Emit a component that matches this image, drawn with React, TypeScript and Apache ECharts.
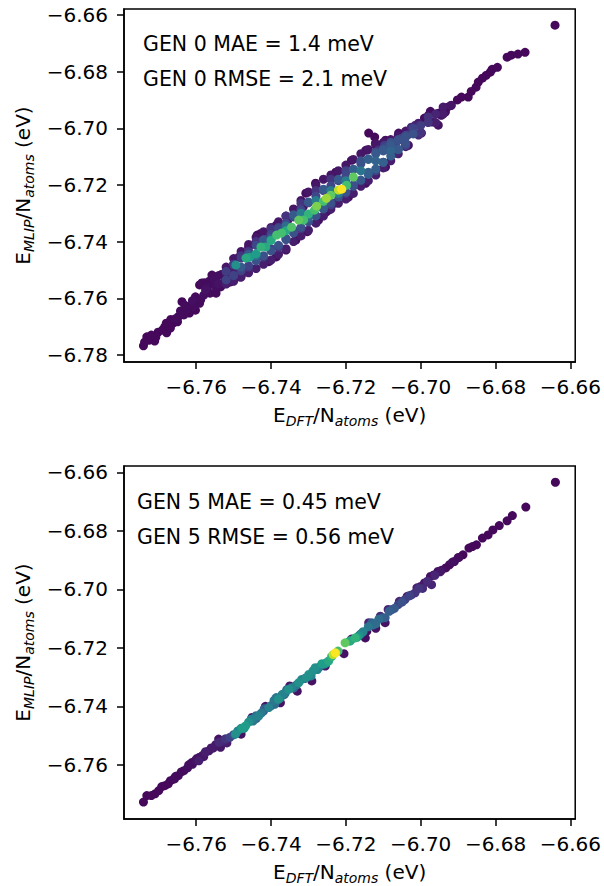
import React, { useEffect, useRef } from 'react';
import * as echarts from 'echarts';

// Tick values
const xTicks = [-6.76, -6.74, -6.72, -6.7, -6.68, -6.66];
const yTicksGen0 = [-6.78, -6.76, -6.74, -6.72, -6.7, -6.68, -6.66];
const yTicksGen5 = [-6.76, -6.74, -6.72, -6.7, -6.68, -6.66];

const gen0Text = ['GEN 0 MAE = 1.4 meV', 'GEN 0 RMSE = 2.1 meV'];
const gen5Text = ['GEN 5 MAE = 0.45 meV', 'GEN 5 RMSE = 0.56 meV'];

// [E_DFT, E_MLIP, density]
const gen0UpperTail = [
  [-6.6641, -6.6636, 0.02], [-6.6721, -6.6732, 0.02], [-6.6758, -6.6742, 0.02], [-6.6769, -6.6749, 0.02],
  [-6.6809, -6.6792, 0.02], [-6.6814, -6.6802, 0.02], [-6.6825, -6.6813, 0.02], [-6.6835, -6.6823, 0.02],
  [-6.6846, -6.6837, 0.02], [-6.6852, -6.6855, 0.02], [-6.6873, -6.689, 0.02], [-6.6891, -6.689, 0.02],
  [-6.6918, -6.6919, 0.03], [-6.6929, -6.6926, 0.03], [-6.6934, -6.6943, 0.03], [-6.6945, -6.6954, 0.04],
  [-6.6953, -6.6947, 0.04], [-6.6974, -6.694, 0.03], [-6.6969, -6.6978, 0.05], [-6.6979, -6.6954, 0.04],
  [-6.699, -6.6964, 0.04], [-6.6865, -6.687, 0.02], [-6.6902, -6.69, 0.02], [-6.694, -6.6935, 0.03],
  [-6.6795, -6.6785, 0.02], [-6.674, -6.6738, 0.02],
];

const gen0LowerTail = [
  [-6.7741, -6.7768, 0.02], [-6.7732, -6.7736, 0.02], [-6.7711, -6.7751, 0.02], [-6.7684, -6.7701, 0.02],
  [-6.7679, -6.7722, 0.02], [-6.7663, -6.7689, 0.02], [-6.7648, -6.7665, 0.03], [-6.7633, -6.7659, 0.03],
  [-6.7638, -6.7612, 0.02], [-6.7617, -6.7628, 0.03], [-6.7602, -6.7642, 0.02], [-6.7591, -6.7618, 0.03],
  [-6.7602, -6.7595, 0.03], [-6.7591, -6.7553, 0.02], [-6.7571, -6.7562, 0.04], [-6.755, -6.7557, 0.04],
  [-6.7555, -6.7522, 0.03], [-6.7531, -6.7515, 0.04], [-6.7509, -6.7526, 0.05], [-6.7499, -6.7507, 0.08],
  [-6.7725, -6.7748, 0.02], [-6.7702, -6.772, 0.02], [-6.769, -6.7712, 0.02], [-6.7669, -6.7705, 0.02],
  [-6.7655, -6.7672, 0.03], [-6.7642, -6.7645, 0.03], [-6.7625, -6.764, 0.03], [-6.761, -6.7608, 0.04],
  [-6.7629, -6.7631, 0.03], [-6.758, -6.7589, 0.04], [-6.7575, -6.757, 0.05], [-6.7563, -6.7582, 0.03],
  [-6.754, -6.7548, 0.05], [-6.7535, -6.756, 0.03], [-6.7522, -6.7536, 0.05], [-6.7515, -6.7505, 0.06],
  [-6.7508, -6.7542, 0.03], [-6.7495, -6.7528, 0.04], [-6.7482, -6.7525, 0.03], [-6.7475, -6.751, 0.05],
  [-6.7738, -6.7755, 0.02], [-6.772, -6.773, 0.02], [-6.7708, -6.7738, 0.02], [-6.768, -6.7688, 0.02],
  [-6.7668, -6.7675, 0.02], [-6.765, -6.7683, 0.02], [-6.763, -6.7625, 0.03], [-6.7618, -6.7652, 0.02],
  [-6.7608, -6.763, 0.03], [-6.7588, -6.7605, 0.03], [-6.7578, -6.7545, 0.03], [-6.7565, -6.754, 0.03],
  [-6.7552, -6.7535, 0.04], [-6.754, -6.752, 0.04], [-6.7528, -6.755, 0.03], [-6.7515, -6.7545, 0.03],
];

const gen0Edges = [
  [-6.7139, -6.7017, 0.02], [-6.7123, -6.7031, 0.02], [-6.7121, -6.7053, 0.05], [-6.7059, -6.7017, 0.04],
  [-6.7041, -6.7017, 0.05], [-6.7094, -6.7042, 0.04], [-6.7147, -6.7078, 0.04], [-6.7185, -6.7113, 0.04],
  [-6.7227, -6.7155, 0.03], [-6.7281, -6.7194, 0.03], [-6.7307, -6.7229, 0.04],
  [-6.6953, -6.6989, 0.05], [-6.6998, -6.7017, 0.06], [-6.7033, -6.706, 0.05], [-6.7094, -6.7137, 0.04],
  [-6.7147, -6.7194, 0.04], [-6.7193, -6.7243, 0.04], [-6.7246, -6.7289, 0.05], [-6.7231, -6.7265, 0.06],
  [-6.7252, -6.7295, 0.04], [-6.7273, -6.7324, 0.04], [-6.7303, -6.7365, 0.03], [-6.7334, -6.7395, 0.03],
  [-6.736, -6.743, 0.03], [-6.7386, -6.7454, 0.03], [-6.7406, -6.7471, 0.03],
  [-6.7314, -6.7277, 0.05], [-6.7334, -6.7289, 0.05], [-6.7355, -6.7324, 0.06], [-6.7365, -6.7348, 0.08],
  [-6.7386, -6.7342, 0.05], [-6.738, -6.7335, 0.05], [-6.7406, -6.7389, 0.1], [-6.7427, -6.7371, 0.03],
  [-6.7437, -6.7377, 0.03], [-6.746, -6.742, 0.05], [-6.7486, -6.7455, 0.06], [-6.7521, -6.7511, 0.06],
  [-6.7558, -6.7518, 0.03], [-6.7585, -6.7546, 0.03], [-6.7547, -6.7582, 0.03],
  [-6.7006, -6.6982, 0.08], [-6.7014, -6.6989, 0.1], [-6.7025, -6.6996, 0.12], [-6.7006, -6.7024, 0.12],
  [-6.7035, -6.7024, 0.18], [-6.7051, -6.7035, 0.2], [-6.7041, -6.7053, 0.15], [-6.7067, -6.7053, 0.22],
  [-6.7078, -6.7049, 0.15], [-6.7097, -6.706, 0.18], [-6.7067, -6.7088, 0.1], [-6.7094, -6.7067, 0.22],
  [-6.7113, -6.7077, 0.15],
];

const gen0Fill = [
  [-6.752, -6.749, 0.06], [-6.752, -6.7505, 0.18], [-6.752, -6.7535, 0.2], [-6.752, -6.755, 0.08],
  [-6.75, -6.746, 0.06], [-6.75, -6.748, 0.18], [-6.75, -6.752, 0.2], [-6.75, -6.754, 0.08],
  [-6.748, -6.7435, 0.06], [-6.748, -6.7458, 0.18], [-6.748, -6.7503, 0.2], [-6.748, -6.7525, 0.08],
  [-6.746, -6.741, 0.06], [-6.746, -6.7435, 0.18], [-6.746, -6.7485, 0.2], [-6.746, -6.751, 0.08],
  [-6.744, -6.7385, 0.06], [-6.744, -6.7413, 0.22], [-6.744, -6.7468, 0.25], [-6.744, -6.7495, 0.08],
  [-6.742, -6.7365, 0.06], [-6.742, -6.7393, 0.22], [-6.742, -6.745, 0.25], [-6.742, -6.748, 0.08],
  [-6.74, -6.735, 0.06], [-6.74, -6.7375, 0.22], [-6.74, -6.7433, 0.25], [-6.74, -6.7465, 0.08],
  [-6.738, -6.733, 0.06], [-6.738, -6.7355, 0.22], [-6.738, -6.7413, 0.25], [-6.738, -6.7445, 0.08],
  [-6.736, -6.731, 0.06], [-6.736, -6.7335, 0.22], [-6.736, -6.7393, 0.25], [-6.736, -6.7425, 0.08],
  [-6.734, -6.7285, 0.06], [-6.734, -6.7313, 0.22], [-6.734, -6.737, 0.25], [-6.734, -6.74, 0.08],
  [-6.732, -6.7255, 0.06], [-6.732, -6.7288, 0.22], [-6.732, -6.735, 0.25], [-6.732, -6.738, 0.08],
  [-6.73, -6.7225, 0.06], [-6.73, -6.7263, 0.22], [-6.73, -6.733, 0.25], [-6.73, -6.736, 0.08],
  [-6.728, -6.72, 0.06], [-6.728, -6.724, 0.22], [-6.728, -6.7308, 0.25], [-6.728, -6.7335, 0.08],
  [-6.726, -6.718, 0.06], [-6.726, -6.722, 0.22], [-6.726, -6.7285, 0.25], [-6.726, -6.731, 0.08],
  [-6.724, -6.7165, 0.06], [-6.724, -6.7203, 0.22], [-6.724, -6.7263, 0.25], [-6.724, -6.7285, 0.08],
  [-6.722, -6.715, 0.06], [-6.722, -6.7185, 0.22], [-6.722, -6.7243, 0.25], [-6.722, -6.7265, 0.08],
  [-6.72, -6.713, 0.06], [-6.72, -6.7165, 0.22], [-6.72, -6.7225, 0.25], [-6.72, -6.725, 0.08],
  [-6.718, -6.711, 0.06], [-6.718, -6.7145, 0.22], [-6.718, -6.7205, 0.25], [-6.718, -6.723, 0.08],
  [-6.716, -6.709, 0.06], [-6.716, -6.7125, 0.25], [-6.716, -6.7183, 0.28], [-6.716, -6.7205, 0.08],
  [-6.714, -6.7075, 0.06], [-6.714, -6.7108, 0.28], [-6.714, -6.7163, 0.3], [-6.714, -6.7185, 0.08],
  [-6.712, -6.706, 0.06], [-6.712, -6.709, 0.28], [-6.712, -6.7143, 0.3], [-6.712, -6.7165, 0.08],
  [-6.71, -6.705, 0.06], [-6.71, -6.7075, 0.28], [-6.71, -6.712, 0.3], [-6.71, -6.714, 0.08],
  [-6.708, -6.704, 0.06], [-6.708, -6.706, 0.28], [-6.708, -6.7098, 0.3], [-6.708, -6.7115, 0.08],
  [-6.706, -6.7025, 0.06], [-6.706, -6.7043, 0.25], [-6.706, -6.7075, 0.28], [-6.706, -6.709, 0.08],
  [-6.704, -6.701, 0.06], [-6.704, -6.7025, 0.22], [-6.704, -6.7053, 0.25], [-6.704, -6.7065, 0.08],
];

const gen0Band = [
  [-6.75, -6.748, 0.15], [-6.75, -6.752, 0.2], [-6.748, -6.745, 0.15], [-6.748, -6.749, 0.28],
  [-6.746, -6.7445, 0.28], [-6.746, -6.749, 0.15], [-6.744, -6.74, 0.15], [-6.744, -6.745, 0.35],
  [-6.742, -6.7395, 0.28], [-6.742, -6.7455, 0.15], [-6.74, -6.7355, 0.15], [-6.74, -6.739, 0.35],
  [-6.74, -6.7425, 0.2], [-6.738, -6.735, 0.2], [-6.738, -6.742, 0.15], [-6.736, -6.731, 0.15],
  [-6.736, -6.7345, 0.35], [-6.736, -6.739, 0.15], [-6.734, -6.7305, 0.28], [-6.734, -6.736, 0.2],
  [-6.732, -6.7265, 0.15], [-6.732, -6.73, 0.42], [-6.732, -6.7355, 0.15], [-6.73, -6.726, 0.28],
  [-6.73, -6.7315, 0.35], [-6.728, -6.722, 0.15], [-6.728, -6.7255, 0.42], [-6.728, -6.731, 0.2],
  [-6.726, -6.7215, 0.28], [-6.726, -6.728, 0.28], [-6.724, -6.718, 0.15], [-6.724, -6.722, 0.42],
  [-6.724, -6.727, 0.2], [-6.722, -6.718, 0.28], [-6.722, -6.723, 0.42], [-6.72, -6.715, 0.2],
  [-6.72, -6.7185, 0.42], [-6.72, -6.723, 0.15], [-6.718, -6.7145, 0.3], [-6.718, -6.72, 0.25],
  [-6.716, -6.7115, 0.25], [-6.716, -6.715, 0.38], [-6.716, -6.7185, 0.2], [-6.714, -6.711, 0.3],
  [-6.714, -6.7155, 0.3], [-6.712, -6.7085, 0.25], [-6.712, -6.7115, 0.32], [-6.712, -6.715, 0.2],
  [-6.71, -6.708, 0.28], [-6.71, -6.712, 0.22], [-6.708, -6.705, 0.25], [-6.708, -6.708, 0.32],
  [-6.706, -6.704, 0.25], [-6.706, -6.7075, 0.28], [-6.704, -6.703, 0.25], [-6.704, -6.706, 0.2],
  [-6.702, -6.7, 0.2], [-6.702, -6.702, 0.25], [-6.7, -6.699, 0.18], [-6.7, -6.7015, 0.15],
  [-6.698, -6.696, 0.14], [-6.698, -6.698, 0.15], [-6.696, -6.695, 0.1], [-6.696, -6.698, 0.08],
  [-6.694, -6.6925, 0.07], [-6.694, -6.695, 0.07], [-6.692, -6.692, 0.06],
];

const gen0Core = [
  [-6.7494, -6.7483, 0.5], [-6.7467, -6.7458, 0.6], [-6.7457, -6.7455, 0.55], [-6.7427, -6.7419, 0.65],
  [-6.7414, -6.7419, 0.6], [-6.7385, -6.7377, 0.7], [-6.7372, -6.737, 0.7], [-6.7345, -6.7349, 0.72],
  [-6.7326, -6.7324, 0.75], [-6.7313, -6.7324, 0.7], [-6.7284, -6.7289, 0.7], [-6.7278, -6.7275, 0.8],
  [-6.7252, -6.7247, 0.85], [-6.722, -6.7218, 0.9], [-6.7211, -6.7215, 1.0], [-6.7198, -6.7201, 0.7],
  [-6.718, -6.7172, 0.75], [-6.744, -6.7443, 0.55], [-6.74, -6.7396, 0.6], [-6.736, -6.7362, 0.6],
  [-6.73, -6.7303, 0.65], [-6.726, -6.7258, 0.7], [-6.724, -6.7236, 0.75],
];

const gen5UpperTail = [
  [-6.664, -6.6634, 0.02], [-6.6719, -6.6719, 0.02], [-6.6755, -6.6748, 0.02], [-6.6769, -6.6766, 0.02],
  [-6.6807, -6.6797, 0.02], [-6.682, -6.6814, 0.02], [-6.6835, -6.6825, 0.02], [-6.6851, -6.6848, 0.02],
  [-6.6871, -6.6859, 0.02], [-6.6887, -6.6882, 0.02], [-6.6923, -6.6916, 0.03], [-6.6933, -6.6927, 0.03],
  [-6.6954, -6.6939, 0.04], [-6.6974, -6.6956, 0.05], [-6.699, -6.6978, 0.06], [-6.679, -6.6782, 0.02],
  [-6.6862, -6.6854, 0.02], [-6.69, -6.6892, 0.03], [-6.691, -6.6905, 0.03], [-6.6945, -6.6935, 0.04],
  [-6.6965, -6.6951, 0.05], [-6.7, -6.699, 0.07],
];

const gen5LowerTail = [
  [-6.7741, -6.7727, 0.02], [-6.7732, -6.7705, 0.02], [-6.771, -6.7699, 0.02], [-6.7684, -6.7671, 0.02],
  [-6.7669, -6.7654, 0.02], [-6.7648, -6.7637, 0.03], [-6.7633, -6.762, 0.03], [-6.7612, -6.7592, 0.04],
  [-6.7591, -6.7574, 0.05], [-6.7566, -6.7552, 0.06], [-6.754, -6.7512, 0.05], [-6.7535, -6.754, 0.06],
  [-6.7675, -6.7665, 0.02], [-6.766, -6.7648, 0.03], [-6.7655, -6.7639, 0.03], [-6.7623, -6.761, 0.04],
  [-6.762, -6.76, 0.04], [-6.7602, -6.7585, 0.05], [-6.7583, -6.7568, 0.06], [-6.7575, -6.7555, 0.06],
  [-6.7555, -6.7543, 0.07], [-6.7548, -6.7531, 0.07], [-6.7525, -6.7515, 0.08], [-6.7518, -6.7525, 0.08],
];

const gen5Edges = [
  [-6.7451, -6.7438, 0.05], [-6.7291, -6.7313, 0.05], [-6.7148, -6.7166, 0.04], [-6.7095, -6.7114, 0.05],
  [-6.7255, -6.7262, 0.06], [-6.7144, -6.7143, 0.04], [-6.7036, -6.7024, 0.08], [-6.7057, -6.7041, 0.1],
  [-6.7087, -6.7069, 0.1], [-6.7108, -6.7092, 0.12], [-6.7139, -6.7114, 0.1], [-6.701, -6.6995, 0.08],
  [-6.733, -6.7348, 0.05], [-6.7375, -6.7388, 0.05], [-6.7415, -6.74, 0.06], [-6.748, -6.7495, 0.05],
  [-6.7205, -6.722, 0.05], [-6.7185, -6.717, 0.06], [-6.735, -6.733, 0.06], [-6.712, -6.7133, 0.05],
];

const gen5Fill = [
  [-6.772, -6.7705, 0.02], [-6.77, -6.7688, 0.02], [-6.7692, -6.7674, 0.02], [-6.7658, -6.7648, 0.03],
  [-6.764, -6.7624, 0.03], [-6.761, -6.7598, 0.04], [-6.7598, -6.7578, 0.05], [-6.758, -6.7572, 0.06],
  [-6.756, -6.7542, 0.07], [-6.753, -6.752, 0.1], [-6.75, -6.7497, 0.25], [-6.748, -6.7475, 0.4],
  [-6.7472, -6.7475, 0.5], [-6.746, -6.7454, 0.5], [-6.7448, -6.745, 0.4], [-6.744, -6.7432, 0.35],
  [-6.7426, -6.7423, 0.4], [-6.7418, -6.7408, 0.3], [-6.74, -6.7398, 0.35], [-6.7392, -6.738, 0.4],
  [-6.7376, -6.7372, 0.45], [-6.7362, -6.7354, 0.4], [-6.7358, -6.7343, 0.35], [-6.7332, -6.7327, 0.4],
  [-6.7318, -6.7308, 0.45], [-6.7306, -6.7302, 0.5], [-6.7288, -6.7279, 0.5], [-6.7276, -6.7274, 0.45],
  [-6.7264, -6.7254, 0.55], [-6.7258, -6.7256, 0.5], [-6.7238, -6.723, 0.65], [-6.719, -6.7177, 0.6],
  [-6.717, -6.7164, 0.55], [-6.7154, -6.7145, 0.45], [-6.714, -6.7128, 0.4], [-6.7128, -6.7122, 0.35],
  [-6.7112, -6.7102, 0.35], [-6.7102, -6.7098, 0.3], [-6.7084, -6.7075, 0.3], [-6.707, -6.7065, 0.28],
  [-6.705, -6.7044, 0.25], [-6.703, -6.7022, 0.2], [-6.7005, -6.6997, 0.15], [-6.6982, -6.6972, 0.12],
  [-6.6962, -6.6952, 0.1], [-6.6948, -6.694, 0.06], [-6.6915, -6.6907, 0.04], [-6.6898, -6.6891, 0.03],
];

const gen5Band = [
  [-6.7015, -6.7012, 0.15], [-6.6971, -6.6984, 0.1], [-6.7042, -6.7035, 0.2], [-6.7077, -6.7069, 0.25],
  [-6.7095, -6.7097, 0.3], [-6.7131, -6.7114, 0.3], [-6.712, -6.7118, 0.35], [-6.716, -6.7152, 0.35],
  [-6.727, -6.7265, 0.35], [-6.731, -6.7305, 0.3], [-6.734, -6.7338, 0.3], [-6.7365, -6.736, 0.3],
  [-6.739, -6.7393, 0.35], [-6.742, -6.7416, 0.3], [-6.744, -6.7442, 0.3], [-6.751, -6.7506, 0.2],
  [-6.7539, -6.7523, 0.12], [-6.7522, -6.7511, 0.15], [-6.7575, -6.7557, 0.08], [-6.7593, -6.7586, 0.08],
  [-6.706, -6.7052, 0.2], [-6.7025, -6.7019, 0.15], [-6.6995, -6.6997, 0.12],
];

const gen5Core = [
  [-6.7495, -6.7495, 0.5], [-6.7489, -6.7484, 0.45], [-6.7468, -6.7467, 0.55], [-6.7453, -6.7444, 0.45],
  [-6.7433, -6.7433, 0.45], [-6.7406, -6.7404, 0.45], [-6.7386, -6.737, 0.4], [-6.738, -6.7376, 0.5],
  [-6.737, -6.7359, 0.45], [-6.7353, -6.7342, 0.5], [-6.7345, -6.7336, 0.45], [-6.7326, -6.7319, 0.5],
  [-6.7299, -6.7291, 0.5], [-6.7293, -6.7296, 0.45], [-6.7282, -6.7268, 0.5], [-6.7252, -6.7251, 0.55],
  [-6.7246, -6.7245, 0.6], [-6.7221, -6.7211, 0.7], [-6.7228, -6.7217, 1.0], [-6.7234, -6.7223, 0.9],
  [-6.7202, -6.7183, 0.75], [-6.7175, -6.7166, 0.65], [-6.7188, -6.7176, 0.6], [-6.7165, -6.7158, 0.5],
  [-6.7478, -6.7475, 0.55],
];

const VIRIDIS = ['#440154', '#482878', '#3e4989', '#31688e', '#26828e', '#1f9e89', '#35b779', '#6ece58', '#b5de2b', '#fde725'];

const FONT = 'DejaVu Sans';

function byDensity(...groups: number[][][]) {
  return ([] as number[][]).concat(...groups).sort((a, b) => a[2] - b[2]);
}

const fmt = (v: number) => (v < 0 ? '\u2212' : '') + Math.abs(v).toFixed(2);

const nameRich = {
  m: { fontSize: 20, fontFamily: FONT, color: '#000', lineHeight: 26 },
  s: { fontSize: 14, fontFamily: FONT, fontStyle: 'italic', color: '#000', lineHeight: 14, padding: [12, 0, 0, 0] },
};

function xAxisFor(gridIndex: number) {
  return {
    type: 'value', gridIndex, min: -6.7793, max: -6.6587,
    name: '{m|E}{s|DFT}{m|/N}{s|atoms}{m| (eV)}',
    nameLocation: 'middle', nameGap: 40,
    nameTextStyle: { rich: nameRich },
    axisLine: { show: true, onZero: false, lineStyle: { color: '#000', width: 1.5 } },
    axisTick: { show: true, length: 7, customValues: xTicks, lineStyle: { color: '#000', width: 1.5 } },
    axisLabel: { customValues: xTicks, formatter: fmt, color: '#000', fontSize: 20, fontFamily: FONT, margin: 15 },
    splitLine: { show: false },
  };
}

function yAxisFor(gridIndex: number, min: number, max: number, ticks: number[]) {
  return {
    type: 'value', gridIndex, min, max,
    name: '{m|E}{s|MLIP}{m|/N}{s|atoms}{m| (eV)}',
    nameLocation: 'middle', nameGap: 88, nameRotate: 90,
    nameTextStyle: { rich: nameRich },
    axisLine: { show: true, onZero: false, lineStyle: { color: '#000', width: 1.5 } },
    axisTick: { show: true, length: 7, customValues: ticks, lineStyle: { color: '#000', width: 1.5 } },
    axisLabel: { customValues: ticks, formatter: fmt, color: '#000', fontSize: 20, fontFamily: FONT, margin: 16 },
    splitLine: { show: false },
  };
}

function textEl(text: string, x: number, y: number) {
  return {
    type: 'text', x, y, silent: true,
    style: { text, fontSize: 20.5, fontFamily: FONT, fill: '#000', verticalAlign: 'middle', align: 'left' },
  };
}

export default function App() {
  const ref = useRef<HTMLDivElement>(null);
  useEffect(() => {
    document.body.style.margin = '0';
    const chart = echarts.init(ref.current!, null, { renderer: 'svg' });
    chart.setOption({
      animation: false,
      backgroundColor: '#fff',
      grid: [
        { left: 124, top: 9, width: 453, height: 353, show: true, borderColor: '#000', borderWidth: 1.5, backgroundColor: 'transparent' },
        { left: 124, top: 466, width: 453, height: 354, show: true, borderColor: '#000', borderWidth: 1.5, backgroundColor: 'transparent' },
      ],
      xAxis: [xAxisFor(0), xAxisFor(1)],
      yAxis: [
        yAxisFor(0, -6.7825, -6.6579, yTicksGen0),
        yAxisFor(1, -6.7785, -6.65785, yTicksGen5),
      ],
      visualMap: {
        show: false, type: 'continuous', min: 0, max: 1, dimension: 2, seriesIndex: [0, 1],
        inRange: { color: VIRIDIS },
      },
      series: [
        {
          type: 'scatter', xAxisIndex: 0, yAxisIndex: 0, symbolSize: 9,
          data: byDensity(gen0UpperTail, gen0LowerTail, gen0Edges, gen0Fill, gen0Band, gen0Core),
          itemStyle: { opacity: 1 },
        },
        {
          type: 'scatter', xAxisIndex: 1, yAxisIndex: 1, symbolSize: 9,
          data: byDensity(gen5UpperTail, gen5LowerTail, gen5Edges, gen5Fill, gen5Band, gen5Core),
          itemStyle: { opacity: 1 },
        },
      ],
      graphic: [
        textEl(gen0Text[0], 143, 43.7),
        textEl(gen0Text[1], 143, 78.7),
        textEl(gen5Text[0], 137, 502.2),
        textEl(gen5Text[1], 137, 537.1),
      ],
    });
    return () => chart.dispose();
  }, []);
  return <div ref={ref} style={{ width: 604, height: 886 }} />;
}
